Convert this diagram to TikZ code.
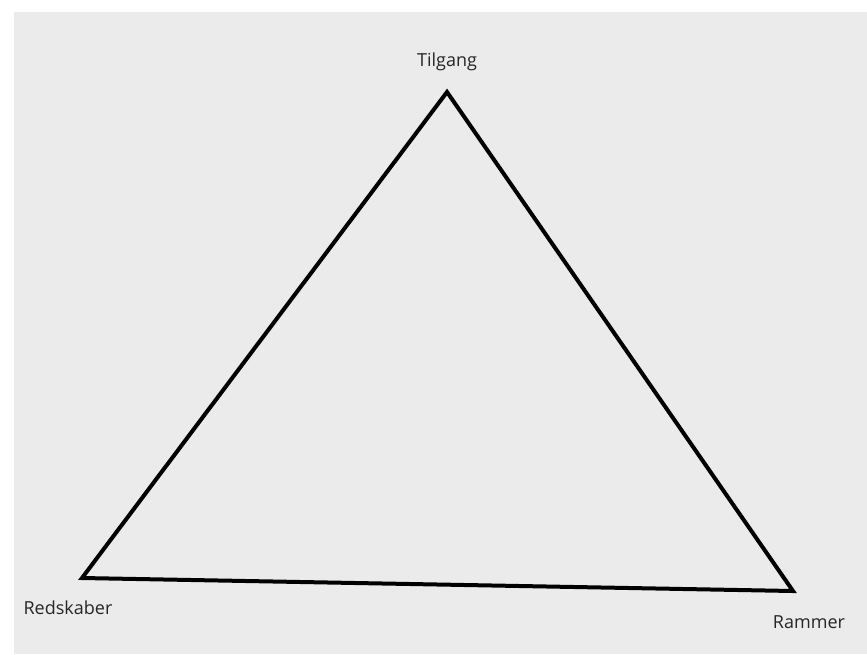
\documentclass[tikz,border=0pt]{standalone}
\usepackage{fontspec}
\setmainfont{Open Sans}
\begin{document}
\begin{tikzpicture}[x=1pt,y=-1pt,
  lbl/.style={font=\fontsize{18}{20}\selectfont, text=black!85, inner sep=0pt},
  edge/.style={line width=4pt, line join=miter, black}]
\useasboundingbox (0,0) rectangle (867,654);
\fill[white] (0,0) rectangle (867,654);
\fill[black!8] (14,12) rectangle (867,654);
\coordinate (T) at (447,92);
\coordinate (L) at (82,578);
\coordinate (R) at (793,591);
\draw[edge] (T) -- (L) -- (R) -- cycle;
\node[lbl] (tilgang) at (447,62) {Tilgang};
\node[lbl] (redskaber) at (68,608) {Redskaber};
\node[lbl] (rammer) at (809,622) {Rammer};
\end{tikzpicture}
\end{document}
